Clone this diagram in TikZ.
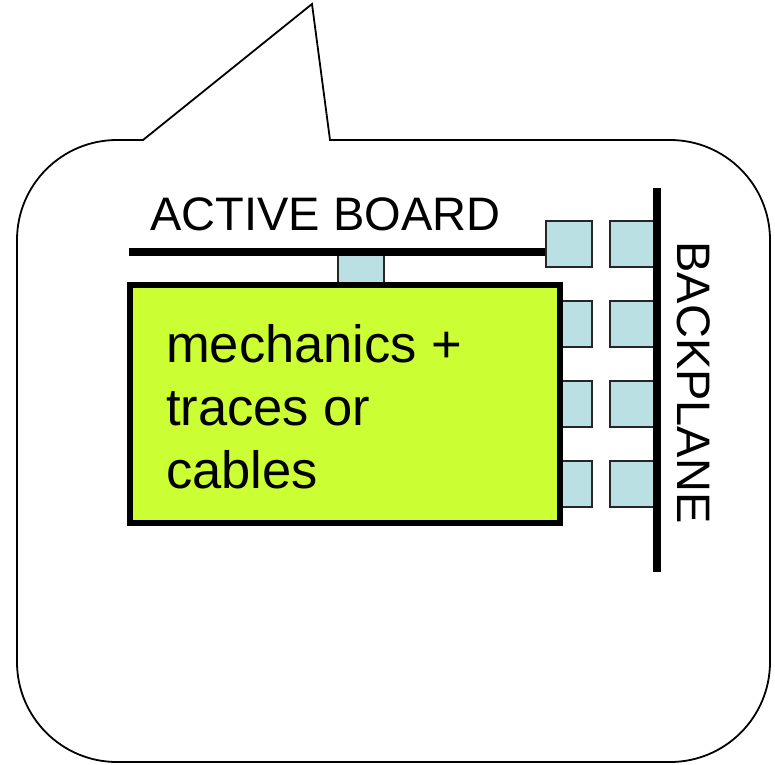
\documentclass[tikz,border=0pt]{standalone}
\usepackage{fontspec}
\setmainfont{Liberation Sans}
\definecolor{limegreen}{HTML}{CCFF33}
\definecolor{padblue}{HTML}{BBE0E3}
\begin{document}
\begin{tikzpicture}[x=1pt,y=1pt,
  pad/.style={draw=black!85, fill=padblue, line width=2pt, inner sep=0pt,
    minimum width=46pt, minimum height=46pt},
  busline/.style={line width=7.5pt, line cap=butt},
  bigtext/.style={inner sep=0pt, font=\fontsize{47}{56}\selectfont}]
\useasboundingbox (0,0) rectangle (775,-764);
% speech bubble
\draw[line width=1.8pt, fill=white, line join=miter]
  (143,-140) -- (312,-4) -- (330,-140) -- (670,-140)
  arc[start angle=90, end angle=0, radius=100] -- (770,-662)
  arc[start angle=0, end angle=-90, radius=100] -- (117,-762)
  arc[start angle=270, end angle=180, radius=100] -- (17,-240)
  arc[start angle=180, end angle=90, radius=100] -- cycle;
% pads
\node[pad] (a1) at (569,-244) {};
\node[pad] (b1) at (633,-244) {};
\node[pad] (a2) at (569,-323.5) {};
\node[pad] (b2) at (633,-323.5) {};
\node[pad] (a3) at (569,-403.5) {};
\node[pad] (b3) at (633,-403.5) {};
\node[pad] (a4) at (569,-484) {};
\node[pad] (b4) at (633,-484) {};
\node[pad] (top) at (361,-277) {};
% active board line
\coordinate (abstart) at (129,-252);
\draw[busline] (abstart) -- (abstart -| a1.west);
% backplane
\coordinate (bptop) at (657,-188);
\coordinate (bpbot) at (657,-572);
\draw[busline, line width=8pt] (bptop) -- (bpbot);
% green box
\node[draw=black, fill=limegreen, line width=6pt, inner sep=0pt,
  minimum width=430pt, minimum height=238pt] (mech) at (345,-404) {};
\node[inner sep=0pt, anchor=base west, align=left,
  font=\fontsize{52.5}{63}\selectfont] (mtext) at (166,-488)
  {mechanics +\\traces or\\cables};
% labels
\node[bigtext, anchor=base] (ablabel) at (325.5,-230) {ACTIVE BOARD};
\node[bigtext, rotate=-90] (bplabel) at (694,-382.5) {BACKPLANE};
\end{tikzpicture}
\end{document}
